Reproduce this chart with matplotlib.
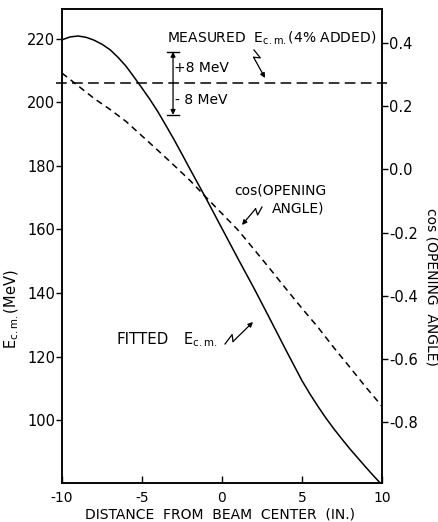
import numpy as np
import matplotlib
matplotlib.use("Agg")
import matplotlib.pyplot as plt
from matplotlib.lines import Line2D
from matplotlib.patches import FancyArrowPatch

plt.rcParams['font.family'] = ['DejaVu Sans']
plt.rcParams['axes.unicode_minus'] = False
plt.rcParams['mathtext.fontset'] = 'dejavusans'

# ---- data ----
distance = [-10, -9.5, -9, -8.5, -8, -7.5, -7, -6.5, -6, -5.5, -5, -4.5, -4, -3.5, -3, -2.5,
            -2, -1, 0, 1, 2, 3, 4, 5, 5.5, 6, 6.5, 7, 7.5, 8, 8.5, 9, 9.5, 10]
fitted_ecm = [219.7, 220.6, 220.9, 220.5, 219.6, 218.3, 216.6, 214.2, 211.4, 208.0, 204.5,
              200.9, 197.0, 192.7, 188.3, 183.7, 179.0, 169.8, 160.3, 150.8, 141.5, 131.8,
              122.0, 112.4, 108.2, 104.3, 100.6, 97.2, 94.0, 90.9, 88.0, 85.1, 82.3, 79.6]
cos_distance = [-10, -9, -8, -7, -6, -5, -4, -3, -2, -1, 0, 1, 2, 3, 4, 5, 6, 7, 8, 9, 10]
cos_opening = [0.305, 0.265, 0.225, 0.19, 0.152, 0.106, 0.06, 0.013, -0.035, -0.088,
               -0.14, -0.192, -0.253, -0.315, -0.378, -0.44, -0.50, -0.565, -0.627, -0.69, -0.75]
measured_ecm = 206.0
errbar_half = 9.9
errbar_x = -3.06

xticks = [-10, -5, 0, 5, 10]
left_ticks = [100, 120, 140, 160, 180, 200, 220]
right_ticks = [-0.8, -0.6, -0.4, -0.2, 0.0, 0.2, 0.4]

W, H = 439, 522
fig = plt.figure(figsize=(W / 100, H / 100), dpi=100)
ax = fig.add_axes([62 / W, 1 - 483 / H, (382 - 62) / W, (483 - 9) / H])
ax2 = ax.twinx()

ax.set_xlim(-10, 10)
ax.set_ylim(80.2, 229.4)
ax2.set_ylim(-0.993, 0.508)

ax.plot(distance, fitted_ecm, color='black', lw=1.1)
ax2.plot(cos_distance, cos_opening, color='black', lw=1.1, dashes=(4.2, 3))

# measured line extends a bit past the frame
ax.plot([-10.4, 10.3], [measured_ecm, measured_ecm], color='black', lw=1.1,
        dashes=(7, 3.5), clip_on=False)

# error bar with arrows
for sgn in (1, -1):
    ax.annotate('', xy=(errbar_x, measured_ecm + sgn * errbar_half), xytext=(errbar_x, measured_ecm),
                arrowprops=dict(arrowstyle='-|>', color='black', lw=0.9, mutation_scale=7,
                                shrinkA=0, shrinkB=0))
    yy = measured_ecm + sgn * errbar_half
    ax.plot([errbar_x - 0.37, errbar_x + 0.37], [yy, yy], color='black', lw=1.0)

# ticks
ax.set_xticks(xticks)
ax.set_xticklabels([str(t) for t in xticks])
ax.set_yticks(left_ticks)
ax.set_yticklabels([str(t) for t in left_ticks])
ax2.set_yticks(right_ticks)
ax2.set_yticklabels(['%.1f' % t for t in right_ticks])
ax.tick_params(axis='x', direction='in', length=5, width=1, pad=6, labelsize=10)
ax.tick_params(axis='y', direction='out', length=4, width=1, pad=1, labelsize=10.5)
ax2.tick_params(axis='y', direction='out', length=4, width=1, pad=1, labelsize=10.5)
for a in (ax, ax2):
    for s in a.spines.values():
        s.set_linewidth(1.1)


def fx(px):
    return px / W


def fy(py):
    return 1 - py / H


# texts (positions in reference pixels)
fs = 10
fig.text(fx(167), fy(38), r'MEASURED  E$_{\rm c.m.}$(4% ADDED)', fontsize=fs, va='center', ha='left')
fig.text(fx(174), fy(68), '+8 MeV', fontsize=fs, va='center', ha='left')
fig.text(fx(175), fy(100), '- 8 MeV', fontsize=fs, va='center', ha='left')
fig.text(fx(234), fy(190), 'cos(OPENING', fontsize=fs, va='center', ha='left')
fig.text(fx(272), fy(208), 'ANGLE)', fontsize=fs, va='center', ha='left')
fig.text(fx(117), fy(340), 'FITTED', fontsize=10.8, va='center', ha='left')
fig.text(fx(183), fy(340), r'E$_{\rm c.m.}$', fontsize=10.5, va='center', ha='left')

fig.text(fx(220), fy(515), 'DISTANCE  FROM  BEAM  CENTER  (IN.)', fontsize=10, va='center', ha='center')
fig.text(fx(12), fy(309), r'E$_{\rm c.m.}$(MeV)', fontsize=10.5, va='center', ha='center', rotation=90)
fig.text(fx(432), fy(287), 'cos (OPENING  ANGLE)', fontsize=10, va='center', ha='center', rotation=270)


def zigzag_arrow(start, tip, w=3.0):
    s = np.array([start[0], -start[1]], dtype=float)
    t = np.array([tip[0], -tip[1]], dtype=float)
    d = t - s
    L = np.hypot(*d)
    u = d / L
    p = np.array([-u[1], u[0]])
    p1 = s + 0.32 * L * u + w * p
    p2 = s + 0.22 * L * u - w * p
    pts = [s, p1, p2]
    xs = [fx(q[0]) for q in pts]
    ys = [fy(-q[1]) for q in pts]
    fig.add_artist(Line2D(xs, ys, color='black', lw=0.9, transform=fig.transFigure))
    fig.add_artist(FancyArrowPatch(
        (fx(p2[0]), fy(-p2[1])), (fx(t[0]), fy(-t[1])), transform=fig.transFigure,
        arrowstyle='-|>', mutation_scale=7, color='black', lw=0.9, shrinkA=0, shrinkB=0))


zigzag_arrow((254, 50), (265, 78))
zigzag_arrow((262, 207), (242, 225))
zigzag_arrow((225, 344), (253, 322))

fig.savefig('out.png', dpi=100)
